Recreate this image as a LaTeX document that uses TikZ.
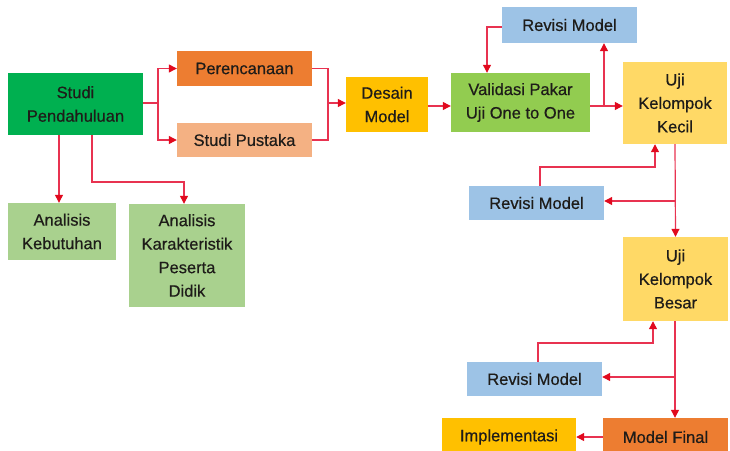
\documentclass[tikz,border=0pt]{standalone}
\usepackage{fontspec}
\setmainfont{Liberation Sans}
\newfontfamily\boxfont{Liberation Sans}[FakeBold=0.5]
\usetikzlibrary{arrows.meta}
\definecolor{cGreen}{RGB}{0,176,80}
\definecolor{cOrange}{RGB}{237,125,49}
\definecolor{cPeach}{RGB}{244,177,131}
\definecolor{cGold}{RGB}{255,192,0}
\definecolor{cLime}{RGB}{146,204,80}
\definecolor{cBlue}{RGB}{157,195,230}
\definecolor{cYellow}{RGB}{255,217,102}
\definecolor{cSage}{RGB}{169,209,142}
\definecolor{cLine}{RGB}{232,50,80}
\definecolor{cHead}{RGB}{225,10,30}
\definecolor{cText}{RGB}{30,28,25}
\tikzset{
  box/.style={draw=none, align=center, text=cText, inner sep=0pt,
    font=\boxfont\fontsize{16.5}{23.5}\selectfont},
  conn/.style={draw=cLine, line width=1.2pt,
    -{Triangle[length=8pt,width=8pt,fill=cHead,color=cHead]}},
  plain/.style={draw=cLine, line width=1.2pt}
}
\begin{document}
\begin{tikzpicture}[x=1pt,y=-1pt]
\useasboundingbox (0,0) rectangle (730,450);
\clip (0,0) rectangle (730,450);
% nodes
\node[box, fill=cGreen, minimum width=135pt, minimum height=62pt] (sp) at (75.5,104) {Studi\\Pendahuluan};
\node[box, fill=cOrange, minimum width=135pt, minimum height=35pt] (per) at (244.5,68.5) {Perencanaan};
\node[box, fill=cPeach, minimum width=135pt, minimum height=34pt] (pus) at (244.5,140) {Studi Pustaka};
\node[box, fill=cGold, minimum width=82pt, minimum height=55pt] (des) at (387,104.5) {Desain\\Model};
\node[box, fill=cLime, minimum width=139pt, minimum height=59pt] (val) at (520.5,102.5) {Validasi Pakar\\Uji One to One};
\node[box, fill=cBlue, minimum width=135pt, minimum height=36pt] (rev1) at (569.5,25) {Revisi Model};
\node[box, fill=cYellow, minimum width=104pt, minimum height=82pt] (kec) at (675,103) {Uji\\Kelompok\\Kecil};
\node[box, fill=cSage, minimum width=108pt, minimum height=57pt] (ak) at (62,231.5) {Analisis\\Kebutuhan};
\node[box, fill=cSage, minimum width=116pt, minimum height=103pt] (akp) at (187,255.5) {Analisis\\Karakteristik\\Peserta\\Didik};
\node[box, fill=cBlue, minimum width=135pt, minimum height=34pt] (rev2) at (536.5,203) {Revisi Model};
\node[box, fill=cYellow, minimum width=105pt, minimum height=84pt] (bes) at (675.5,279) {Uji\\Kelompok\\Besar};
\node[box, fill=cBlue, minimum width=135pt, minimum height=34pt] (rev3) at (534.5,379) {Revisi Model};
\node[box, fill=cOrange, minimum width=125pt, minimum height=38pt] (mf) at (665.5,437) {Model Final};
\node[box, fill=cGold, minimum width=134pt, minimum height=38pt] (imp) at (509,437) {Implementasi};
% junction coordinates
\coordinate (j1) at (158,103);
\coordinate (j2) at (328,103);
\coordinate (j3) at (604,106);
\coordinate (j4) at (675,201);
\coordinate (j5) at (675,377);
% connectors
\draw[plain] (sp.east |- j1) -- (j1);
\draw[conn] (j1) |- (per.west);
\draw[conn] (j1) |- (pus.west);
\draw[plain] (per.east) -| (j2);
\draw[plain] (pus.east) -| (j2);
\draw[conn] (j2) -- (des.west |- j2);
\draw[conn] (des.east |- 0,106) -- (val.west |- 0,106);
\draw[conn] (val.east |- j3) -- (kec.west |- j3);
\draw[conn] (j3) -- (rev1.south -| j3);
\draw[conn] (rev1.west |- 0,27) -- (487,27) -- (val.north -| 487,0);
\draw[conn] (kec.south) -- (bes.north);
\draw[conn] (j4) -- (rev2.east |- j4);
\draw[conn] (rev2.north -| 540,0) -- (540,167) -- (655,167) -- (kec.south -| 655,0);
\draw[conn] (bes.south -| 675,0) -- (mf.north -| 675,0);
\draw[conn] (j5) -- (rev3.east |- j5);
\draw[conn] (rev3.north -| 538,0) -- (538,343) -- (653,343) -- (bes.south -| 653,0);
\draw[conn] (mf.west) -- (imp.east);
\draw[conn] (sp.south -| 59,0) -- (ak.north -| 59,0);
\draw[conn] (sp.south -| 92,0) -- (92,182) -- (184,182) -- (akp.north -| 184,0);
\end{tikzpicture}
\end{document}
